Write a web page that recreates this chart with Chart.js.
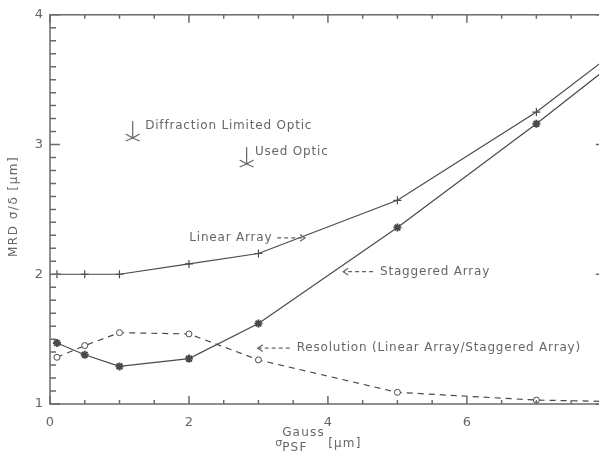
<!DOCTYPE html>
<html>
<head>
<meta charset="utf-8">
<script src="https://cdn.jsdelivr.net/npm/chart.js@4.4.1/dist/chart.umd.min.js"></script>
<style>
  html, body { margin: 0; padding: 0; background: #fff; overflow: hidden; }
  #wrap { width: 599px; height: 452px; overflow: hidden; }
</style>
</head>
<body>
<div id="wrap"><canvas id="chart" width="621" height="452"></canvas></div>
<script>
// values
const sigmaPsf = [0.1, 0.5, 1, 2, 3, 5, 7, 8];
const linearArray = [2.0, 2.0, 2.0, 2.08, 2.16, 2.57, 3.25, 3.66];
const staggeredArray = [1.47, 1.38, 1.29, 1.35, 1.62, 2.36, 3.16, 3.58];
const resolution = [1.36, 1.45, 1.55, 1.54, 1.34, 1.09, 1.03, 1.02];
const xTicks = [0, 2, 4, 6, 8];
const yTicks = [1, 2, 3, 4];

const INK = "#4a4a4a";
const TEXT = "#666";
const FONT = "DejaVu Sans";

const toPoints = (ys) => ys.map((v, i) => ({ x: sigmaPsf[i], y: v }));

// inward ticks on all four sides + frame
const frame = {
  id: "frame",
  afterDraw(chart) {
    const { ctx, chartArea: a, scales: { x, y } } = chart;
    ctx.save();
    ctx.strokeStyle = "#6a6a6a";
    ctx.lineWidth = 1.5;
    ctx.strokeRect(a.left, a.top, a.right - a.left, a.bottom - a.top);
    ctx.beginPath();
    for (let v = 0; v <= 8.001; v += 0.5) {
      const px = x.getPixelForValue(v);
      const len = xTicks.includes(v) ? 8 : 4;
      ctx.moveTo(px, a.bottom); ctx.lineTo(px, a.bottom - len);
      ctx.moveTo(px, a.top); ctx.lineTo(px, a.top + len);
    }
    for (let i = 10; i <= 40; i++) {
      const py = y.getPixelForValue(i / 10);
      const len = i % 10 === 0 ? 10 : 6;
      ctx.moveTo(a.left, py); ctx.lineTo(a.left + len, py);
      ctx.moveTo(a.right, py); ctx.lineTo(a.right - len, py);
    }
    ctx.stroke();
    ctx.restore();
  },
};

function arrow(ctx, x1, y1, x2, y2) {
  ctx.save();
  ctx.setLineDash([4, 3]);
  ctx.beginPath();
  ctx.moveTo(x1, y1); ctx.lineTo(x2, y2);
  ctx.stroke();
  ctx.setLineDash([]);
  const ang = Math.atan2(y2 - y1, x2 - x1);
  ctx.beginPath();
  ctx.moveTo(x2 - 6 * Math.cos(ang - 0.6), y2 - 6 * Math.sin(ang - 0.6));
  ctx.lineTo(x2, y2);
  ctx.lineTo(x2 - 6 * Math.cos(ang + 0.6), y2 - 6 * Math.sin(ang + 0.6));
  ctx.stroke();
  ctx.restore();
}

function optikMark(ctx, px, py) {
  ctx.beginPath();
  ctx.moveTo(px, py); ctx.lineTo(px, py - 17);
  ctx.moveTo(px - 7, py - 4); ctx.lineTo(px, py); ctx.lineTo(px - 7, py + 3);
  ctx.moveTo(px + 7, py - 4); ctx.lineTo(px, py); ctx.lineTo(px + 7, py + 3);
  ctx.stroke();
}

const notes = {
  id: "notes",
  afterDatasetsDraw(chart) {
    const { ctx, chartArea: a, scales: { x, y } } = chart;
    const X = (v) => x.getPixelForValue(v);
    const Y = (v) => y.getPixelForValue(v);
    ctx.save();
    ctx.strokeStyle = "#666";
    ctx.fillStyle = TEXT;
    ctx.lineWidth = 1.2;
    ctx.font = `12px "${FONT}"`;
    ctx.letterSpacing = "0.8px";
    ctx.textBaseline = "middle";

    optikMark(ctx, X(1.19), Y(3.05));
    ctx.fillText("Diffraction Limited Optic", X(1.37), Y(3.14));
    optikMark(ctx, X(2.83), Y(2.85));
    ctx.fillText("Used Optic", X(2.95), Y(2.94));

    ctx.textAlign = "right";
    ctx.fillText("Linear Array", X(3.2), Y(2.28));
    arrow(ctx, X(3.27), Y(2.28), X(3.67), Y(2.28));
    ctx.textAlign = "left";
    arrow(ctx, X(4.65), Y(2.02), X(4.22), Y(2.02));
    ctx.fillText("Staggered Array", X(4.75), Y(2.02));
    arrow(ctx, X(3.45), Y(1.43), X(2.99), Y(1.43));
    ctx.fillText("Resolution (Linear Array/Staggered Array)", X(3.55), Y(1.43));

    // y title
    ctx.save();
    ctx.translate(14, (a.top + a.bottom) / 2 - 3);
    ctx.rotate(-Math.PI / 2);
    ctx.textAlign = "center";
    ctx.letterSpacing = "1.5px";
    ctx.fillText("MRD \u03c3/\u03b4 [\u03bcm]", 0, 0);
    ctx.restore();

    // x title: sigma with Gauss superscript and PSF subscript
    const tx = X(3.24);
    ctx.textAlign = "left";
    ctx.font = `11px "${FONT}"`;
    ctx.letterSpacing = "0px";
    ctx.fillText("\u03c3", tx, a.bottom + 39);
    ctx.font = `12px "${FONT}"`;
    ctx.letterSpacing = "1.2px";
    ctx.fillText("Gauss", tx + 7, a.bottom + 29);
    ctx.fillText("PSF", tx + 7, a.bottom + 44);
    ctx.fillText("[\u03bcm]", tx + 53, a.bottom + 40);
    ctx.restore();
  },
};

const common = {
  borderColor: INK,
  borderWidth: 1.2,
  pointBorderColor: INK,
  tension: 0,
};

new Chart(document.getElementById("chart"), {
  type: "line",
  data: {
    datasets: [
      {
        ...common,
        label: "Linear Array",
        data: toPoints(linearArray),
        pointStyle: "cross",
        pointRadius: 4,
        pointBorderWidth: 1.2,
      },
      {
        ...common,
        label: "Staggered Array",
        data: toPoints(staggeredArray),
        pointStyle: "star",
        pointRadius: 4,
        pointBorderWidth: 2,
        pointBackgroundColor: INK,
      },
      {
        ...common,
        label: "Resolution",
        data: toPoints(resolution),
        borderDash: [6, 5],
        pointStyle: "circle",
        pointRadius: 3,
        pointBorderWidth: 1,
        pointBackgroundColor: "#fff",
      },
    ],
  },
  options: {
    responsive: false,
    animation: false,
    layout: { padding: { top: 14, right: 6, left: 0, bottom: 0 } },
    scales: {
      x: {
        type: "linear",
        min: 0,
        max: 8,
        afterBuildTicks: (s) => { s.ticks = xTicks.map((v) => ({ value: v })); },
        afterFit: (s) => { s.height = 48; },
        grid: { display: false, drawTicks: false },
        border: { display: false },
        ticks: { padding: 11, color: TEXT, font: { family: FONT, size: 13 }, maxRotation: 0, autoSkip: false },
      },
      y: {
        min: 1,
        max: 4,
        afterBuildTicks: (s) => { s.ticks = yTicks.map((v) => ({ value: v })); },
        afterFit: (s) => { s.width = 50; },
        grid: { display: false, drawTicks: false },
        border: { display: false },
        ticks: { padding: 7, color: TEXT, font: { family: FONT, size: 13 } },
      },
    },
    plugins: {
      legend: { display: false },
      title: { display: false },
      tooltip: { enabled: false },
    },
  },
  plugins: [frame, notes],
});
</script>
</body>
</html>
